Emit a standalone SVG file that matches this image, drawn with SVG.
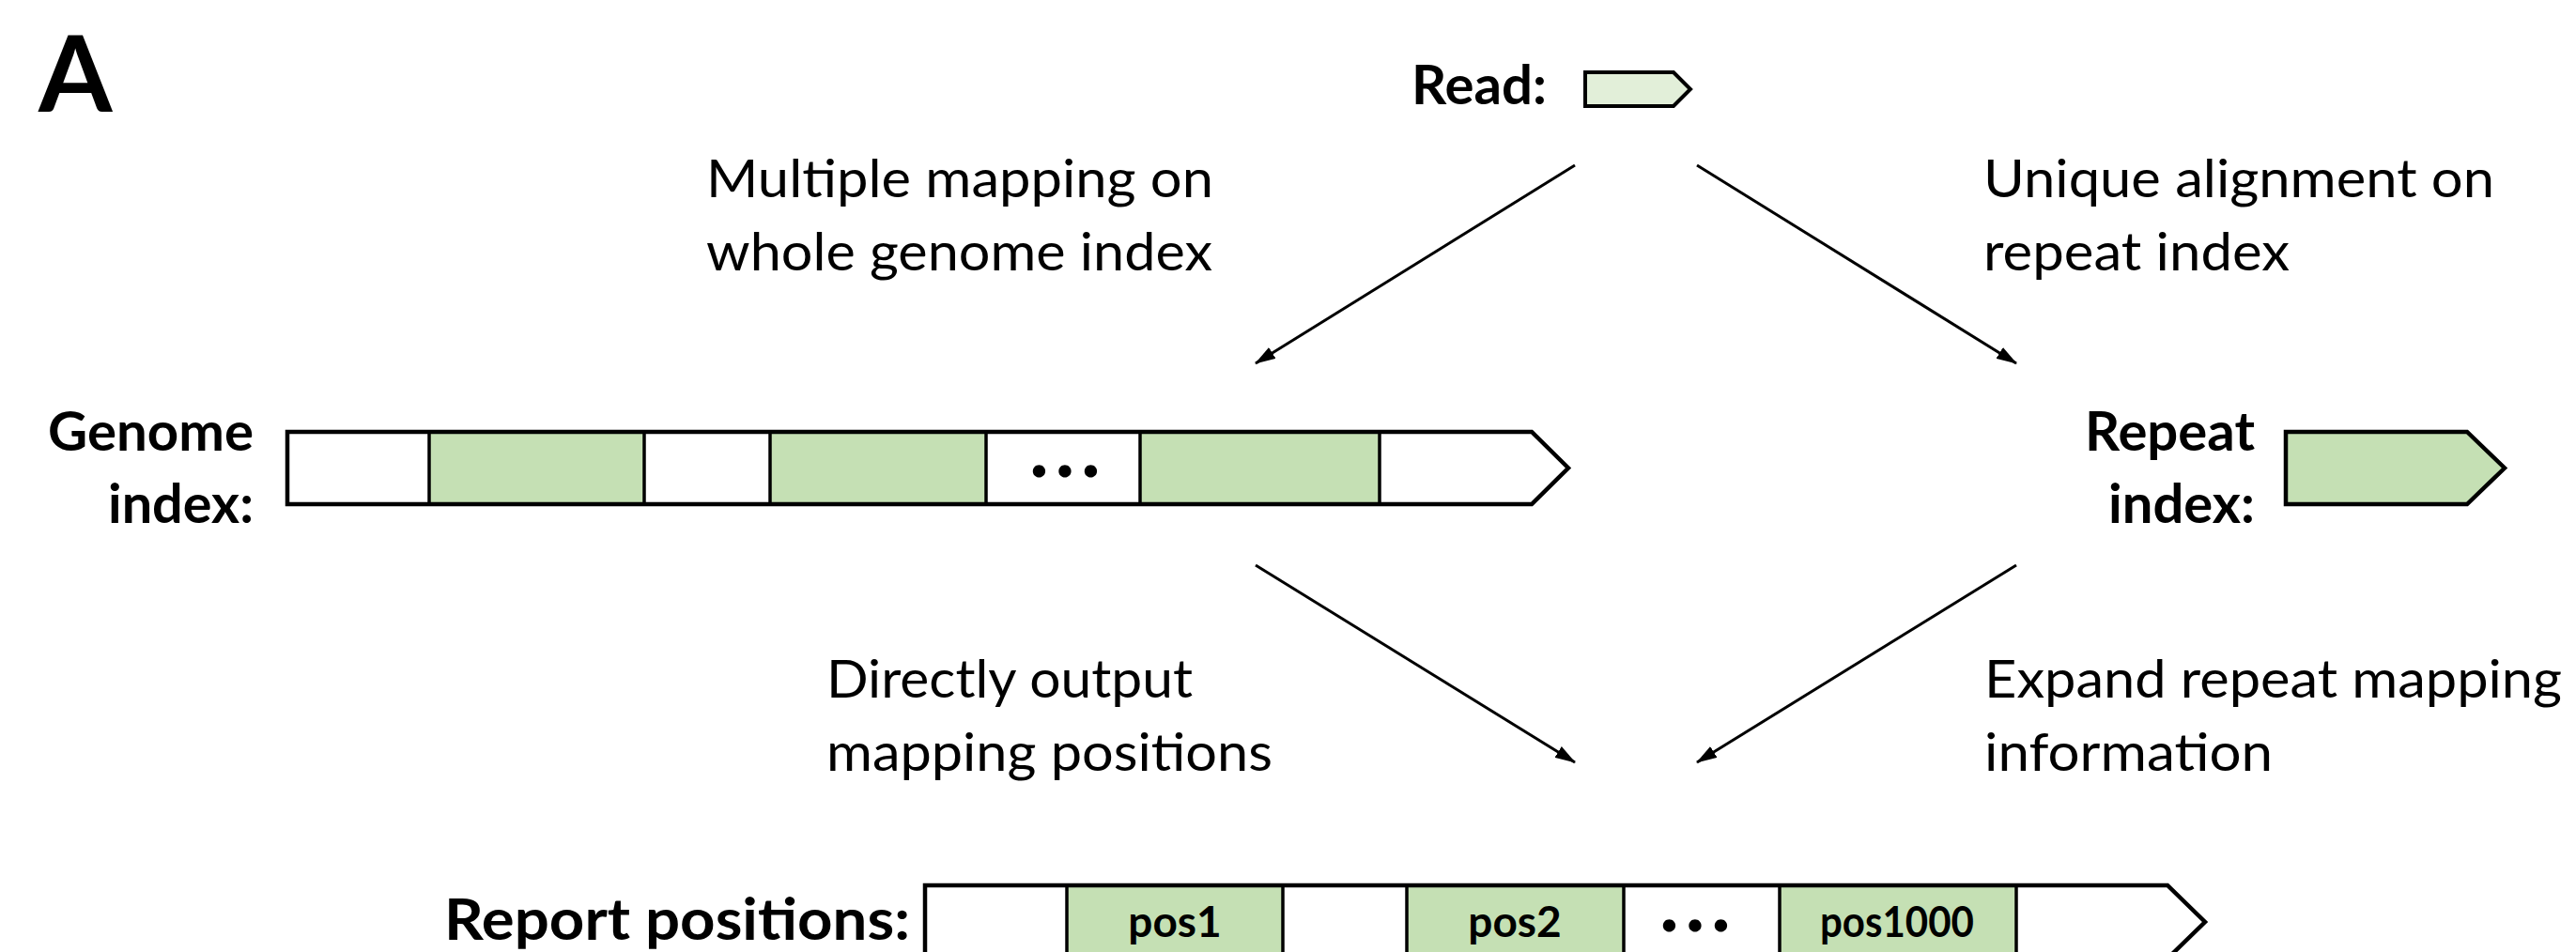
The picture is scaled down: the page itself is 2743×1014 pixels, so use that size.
<svg xmlns="http://www.w3.org/2000/svg" width="2743" height="1014" viewBox="0 0 2743 1014">
<style>
  .bold { font-family: Lato, "Liberation Sans", sans-serif; font-weight: 700; fill: #000; }
  .reg { font-family: Lato, "Liberation Sans", sans-serif; font-weight: 400; fill: #000; font-size: 56px; }
  .lbl { font-size: 58px; }
  .outline { fill: none; stroke: #000; stroke-width: 4.5; stroke-linejoin: miter; }
  .div { stroke: #000; stroke-width: 3.5; }
  .green { fill: #C5E0B4; }
  .white { fill: #FFFFFF; }
  .conn { stroke: #000; stroke-width: 3; fill: none; marker-end: url(#arrow); }
</style>
<defs>
  <marker id="arrow" viewBox="0 0 22 14" refX="21" refY="7" markerWidth="22" markerHeight="14" markerUnits="userSpaceOnUse" orient="auto">
    <path d="M0,0 L22,7 L0,14 z" fill="#000"/>
  </marker>
</defs>
<rect width="2743" height="1014" fill="#FFFFFF"/>

<text class="bold" x="41" y="119" font-size="113">A</text>

<g id="read">
  <text class="bold lbl" x="1503" y="111" textLength="144" lengthAdjust="spacingAndGlyphs">Read:</text>
  <path d="M1688,77 L1782,77 L1800,95 L1782,113 L1688,113 Z" fill="#E2EFD9" stroke="#000" stroke-width="4"/>
</g>

<g id="genome-index">
  <text class="bold lbl" x="51" y="480" textLength="219" lengthAdjust="spacingAndGlyphs">Genome</text>
  <text class="bold lbl" x="115" y="557" textLength="155" lengthAdjust="spacingAndGlyphs">index:</text>
  <path class="white" d="M306,460 L1631,460 L1670,498.5 L1631,537 L306,537 Z"/>
  <rect class="green" x="457" y="460" width="229" height="77"/>
  <rect class="green" x="820" y="460" width="230" height="77"/>
  <rect class="green" x="1214" y="460" width="255" height="77"/>
  <line class="div" x1="457" y1="460" x2="457" y2="537"/>
  <line class="div" x1="686" y1="460" x2="686" y2="537"/>
  <line class="div" x1="820" y1="460" x2="820" y2="537"/>
  <line class="div" x1="1050" y1="460" x2="1050" y2="537"/>
  <line class="div" x1="1214" y1="460" x2="1214" y2="537"/>
  <line class="div" x1="1469" y1="460" x2="1469" y2="537"/>
  <path class="outline" d="M306,460 L1631,460 L1670,498.5 L1631,537 L306,537 Z"/>
  <text class="bold" x="1096" y="508" font-size="88" textLength="76" lengthAdjust="spacing">...</text>
</g>

<g id="repeat-index">
  <text class="bold lbl" x="2220" y="480" textLength="181" lengthAdjust="spacingAndGlyphs">Repeat</text>
  <text class="bold lbl" x="2245" y="557" textLength="156" lengthAdjust="spacingAndGlyphs">index:</text>
  <path class="green" d="M2434,460 L2627,460 L2667,498.5 L2627,537 L2434,537 Z" stroke="#000" stroke-width="4.5"/>
</g>

<g id="report-positions">
  <text class="bold" x="473" y="1001" font-size="62" textLength="496" lengthAdjust="spacingAndGlyphs">Report positions:</text>
  <path class="white" d="M985,943 L2308,943 L2348,982 L2308,1021 L985,1021 Z"/>
  <rect class="green" x="1136" y="943" width="230" height="78"/>
  <rect class="green" x="1498" y="943" width="231" height="78"/>
  <rect class="green" x="1895" y="943" width="252" height="78"/>
  <line class="div" x1="1136" y1="943" x2="1136" y2="1021"/>
  <line class="div" x1="1366" y1="943" x2="1366" y2="1021"/>
  <line class="div" x1="1498" y1="943" x2="1498" y2="1021"/>
  <line class="div" x1="1729" y1="943" x2="1729" y2="1021"/>
  <line class="div" x1="1895" y1="943" x2="1895" y2="1021"/>
  <line class="div" x1="2147" y1="943" x2="2147" y2="1021"/>
  <path class="outline" d="M985,943 L2308,943 L2348,982 L2308,1021 L985,1021 Z"/>
  <text class="bold" x="1251" y="998" font-size="46" text-anchor="middle">pos1</text>
  <text class="bold" x="1613" y="998" font-size="46" text-anchor="middle">pos2</text>
  <text class="bold" x="1767" y="992" font-size="88" textLength="76" lengthAdjust="spacing">...</text>
  <text class="bold" x="2020" y="998" font-size="46" text-anchor="middle" textLength="164" lengthAdjust="spacingAndGlyphs">pos1000</text>
</g>

<g id="labels">
  <text class="reg" x="752" y="210" textLength="540" lengthAdjust="spacingAndGlyphs">Multiple mapping on</text>
  <text class="reg" x="752" y="288" textLength="539" lengthAdjust="spacingAndGlyphs">whole genome index</text>
  <text class="reg" x="2112" y="210" textLength="544" lengthAdjust="spacingAndGlyphs">Unique alignment on</text>
  <text class="reg" x="2112" y="288" textLength="326" lengthAdjust="spacingAndGlyphs">repeat index</text>
  <text class="reg" x="880" y="743" textLength="390" lengthAdjust="spacingAndGlyphs">Directly output</text>
  <text class="reg" x="880" y="821" textLength="475" lengthAdjust="spacingAndGlyphs">mapping positions</text>
  <text class="reg" x="2113" y="743" textLength="615" lengthAdjust="spacingAndGlyphs">Expand repeat mapping</text>
  <text class="reg" x="2113" y="821" textLength="307" lengthAdjust="spacingAndGlyphs">information</text>
</g>

<g id="connectors">
  <line class="conn" x1="1677" y1="176" x2="1337" y2="387"/>
  <line class="conn" x1="1807" y1="176" x2="2147" y2="387"/>
  <line class="conn" x1="1337" y1="602" x2="1677" y2="812"/>
  <line class="conn" x1="2147" y1="602" x2="1807" y2="812"/>
</g>
</svg>
